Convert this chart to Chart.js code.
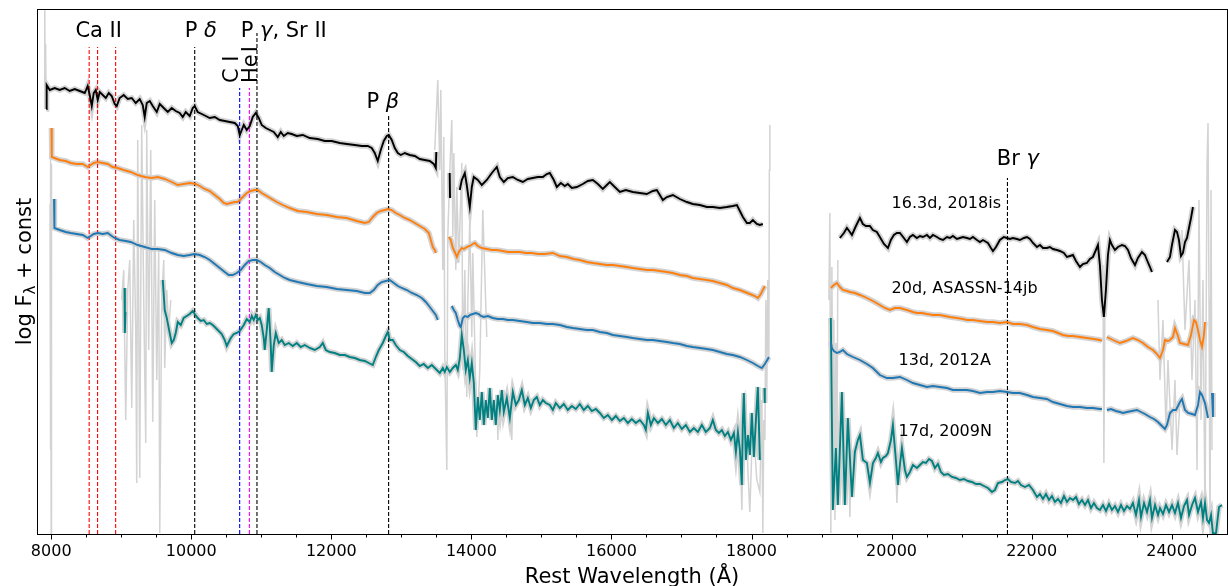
<!DOCTYPE html>
<html>
<head>
<meta charset="utf-8">
<script src="https://cdn.jsdelivr.net/npm/chart.js@4.4.1/dist/chart.umd.min.js"></script>
<style>
  html, body { margin: 0; padding: 0; background: #fff; }
  #wrap { width: 1228px; height: 586px; }
</style>
</head>
<body>
<div id="wrap"><canvas id="myChart" width="1228" height="586"></canvas></div>
<script>
// wavelengths in Angstrom, flux as log F + const, null = gap
var blackWave = [
  7930, 7935, 7979, 8050, 8121, 8193, 8264, 8336, 8407, 8479,
  8521, 8550, 8579, 8607, 8636, 8664, 8693, 8736, 8779, 8822,
  8864, 8907, 8936, 8978, 9035, 9093, 9150, 9207, 9264, 9307,
  9335, 9364, 9407, 9450, 9507, 9550, 9607, 9664, 9721, 9778,
  9835, 9878, 9921, 9978, 10021, 10049, 10092, 10150, 10207, 10264,
  10335, 10407, 10478, 10549, 10621, 10664, 10692, 10721, 10750, 10792,
  10835, 10878, 10921, 10964, 11006, 11064, 11121, 11178, 11235, 11278,
  11321, 11378, 11435, 11506, 11592, 11692, 11806, 11906, 12006, 12120,
  12220, 12335, 12435, 12520, 12577, 12620, 12663, 12706, 12749, 12792,
  12820, 12863, 12906, 12949, 12992, 13049, 13120, 13192, 13263, 13334,
  13406, 13463, 13492, 13499, 13600, 13690, 13695, 13760,
  13834, 13863, 13906, 13934, 13963, 13977, 14006, 14034, 14092, 14149,
  14220, 14292, 14363, 14406, 14463, 14520, 14591, 14663, 14734, 14806,
  14877, 14948, 15020, 15077, 15120, 15177, 15220, 15277, 15334, 15377,
  15434, 15506, 15591, 15663, 15734, 15806, 15877, 15934, 15977, 16048,
  16120, 16205, 16305, 16405, 16505, 16591, 16648, 16691, 16734, 16791,
  16877, 16977, 17077, 17162, 17262, 17362, 17448, 17548, 17648, 17733,
  17791, 17834, 17877, 17934, 17976, 18019, 18076, 18119, 18162, 18700,
  19262, 19319, 19362, 19405, 19434, 19491, 19548, 19590, 19633, 19690,
  19733, 19790, 19833, 19891, 19948, 19990, 20033, 20076, 20119, 20176,
  20219, 20262, 20305, 20362, 20405, 20448, 20505, 20548, 20591, 20648,
  20691, 20734, 20791, 20834, 20876, 20933, 20976, 21019, 21076, 21119,
  21162, 21219, 21262, 21305, 21376, 21419, 21448, 21491, 21547, 21604,
  21647, 21690, 21733, 21790, 21833, 21890, 21933, 21976, 22019, 22076,
  22119, 22162, 22218, 22261, 22304, 22361, 22404, 22461, 22504, 22547,
  22590, 22633, 22690, 22732, 22789, 22832, 22875, 22918, 22947, 22975,
  23004, 23032, 23061, 23090, 23118, 23147, 23190, 23233, 23290, 23333,
  23376, 23419, 23476, 23518, 23576, 23618, 23647, 23690, 23718, 23820,
  23933, 23976, 24004, 24047, 24076, 24104, 24133, 24161, 24190, 24219,
  24247, 24276, 24304
];
var blackFlux = [
  4.25, 4.49, 4.44, 4.46, 4.44, 4.46, 4.43, 4.45, 4.43, 4.41,
  4.48, 4.39, 4.28, 4.41, 4.44, 4.34, 4.42, 4.39, 4.36, 4.41,
  4.38, 4.30, 4.28, 4.36, 4.39, 4.35, 4.36, 4.31, 4.35, 4.29,
  4.17, 4.31, 4.33, 4.28, 4.22, 4.30, 4.26, 4.22, 4.26, 4.23,
  4.21, 4.17, 4.22, 4.18, 4.26, 4.28, 4.22, 4.20, 4.18, 4.16,
  4.17, 4.14, 4.13, 4.12, 4.11, 4.08, 3.99, 4.04, 4.09, 4.04,
  4.08, 4.17, 4.21, 4.16, 4.09, 4.06, 4.04, 4.02, 3.97, 4.02,
  3.98, 4.01, 4.00, 3.98, 3.99, 3.96, 3.95, 3.93, 3.93, 3.91,
  3.90, 3.89, 3.88, 3.88, 3.86, 3.81, 3.73, 3.84, 3.93, 3.98,
  3.99, 3.94, 3.86, 3.81, 3.79, 3.81, 3.79, 3.78, 3.75, 3.74,
  3.73, 3.70, 3.66, 3.82, null, 3.61, 3.36, null,
  3.44, 3.54, 3.61, 3.49, 3.34, 3.27, 3.47, 3.57, 3.54, 3.49,
  3.54, 3.61, 3.67, 3.57, 3.52, 3.56, 3.57, 3.54, 3.52, 3.55,
  3.56, 3.57, 3.57, 3.60, 3.61, 3.54, 3.47, 3.51, 3.48, 3.50,
  3.46, 3.47, 3.50, 3.53, 3.54, 3.50, 3.45, 3.49, 3.52, 3.47,
  3.42, 3.44, 3.42, 3.41, 3.40, 3.43, 3.44, 3.39, 3.34, 3.37,
  3.39, 3.35, 3.32, 3.30, 3.29, 3.27, 3.27, 3.26, 3.27, 3.28,
  3.29, 3.23, 3.17, 3.11, 3.11, 3.14, 3.10, 3.09, 3.10, null,
  2.96, 3.01, 3.06, 3.02, 2.99, 3.08, 3.16, 3.10, 3.08, 3.08,
  3.04, 3.02, 2.97, 2.90, 2.86, 2.94, 2.99, 3.01, 3.01, 2.96,
  2.92, 2.97, 2.99, 2.96, 2.98, 2.97, 2.99, 2.96, 2.99, 2.97,
  2.95, 2.94, 2.97, 2.96, 2.98, 2.95, 2.96, 2.97, 2.96, 2.95,
  2.97, 2.94, 2.92, 2.94, 2.91, 2.86, 2.83, 2.87, 2.94, 2.97,
  2.96, 2.95, 2.96, 2.95, 2.94, 2.96, 2.97, 2.95, 2.91, 2.87,
  2.89, 2.86, 2.86, 2.87, 2.85, 2.84, 2.83, 2.81, 2.77, 2.78,
  2.79, 2.73, 2.67, 2.70, 2.71, 2.75, 2.77, 2.84, 2.89, 2.69,
  2.34, 2.17, 2.44, 2.79, 2.94, 2.89, 2.84, 2.87, 2.89, 2.88,
  2.84, 2.76, 2.69, 2.76, 2.82, 2.79, 2.74, 2.67, 2.62, null,
  2.72, 2.77, 2.89, 3.04, 3.02, 2.94, 2.78, 2.81, 2.92, 2.96,
  3.06, 3.16, 3.27
];

var orangeWave = [
  8003, 8008, 8046, 8121, 8207, 8278, 8364, 8450, 8521, 8564,
  8607, 8664, 8736, 8807, 8878, 8950, 9035, 9135, 9235, 9335,
  9435, 9521, 9621, 9721, 9807, 9892, 9978, 10064, 10121, 10192,
  10264, 10335, 10407, 10464, 10507, 10564, 10621, 10664, 10707, 10750,
  10792, 10849, 10906, 10949, 11006, 11078, 11149, 11221, 11306, 11406,
  11521, 11649, 11792, 11935, 12078, 12221, 12363, 12478, 12535, 12592,
  12649, 12706, 12763, 12806, 12863, 12920, 12977, 13049, 13120, 13192,
  13263, 13335, 13392, 13421, 13449, 13477, 13492, 13590,
  13677, 13706, 13735, 13763, 13792, 13820, 13863, 13892, 13934, 13977,
  14020, 14049, 14092, 14149, 14220, 14292, 14363, 14449, 14520, 14591,
  14691, 14777, 14863, 14949, 15048, 15163, 15263, 15363, 15463, 15548,
  15648, 15734, 15834, 15934, 16020, 16120, 16220, 16305, 16405, 16505,
  16591, 16691, 16791, 16877, 16977, 17077, 17162, 17262, 17362, 17448,
  17548, 17648, 17733, 17834, 17905, 17976, 18048, 18091, 18133, 18162,
  18191, 18700,
  19133, 19176, 19219, 19262, 19305, 19362, 19405, 19476, 19548, 19648,
  19733, 19833, 19905, 19976, 20048, 20119, 20219, 20305, 20362, 20433,
  20505, 20591, 20691, 20762, 20834, 20933, 21019, 21076, 21162, 21262,
  21362, 21448, 21547, 21647, 21733, 21833, 21933, 22019, 22119, 22218,
  22304, 22376, 22447, 22518, 22590, 22690, 22789, 22889, 22975, 23004,
  23040, 23075, 23161, 23261, 23347, 23447, 23518, 23590, 23661, 23733,
  23790, 23833, 23876, 23904, 23947, 23976, 24019, 24047, 24090, 24118,
  24176, 24233, 24276, 24319, 24347, 24376, 24404, 24433, 24461, 24476
];
var orangeFlux = [
  4.06, 3.77, 3.76, 3.74, 3.73, 3.71, 3.70, 3.70, 3.67, 3.69,
  3.71, 3.72, 3.71, 3.70, 3.67, 3.66, 3.64, 3.62, 3.59, 3.57,
  3.56, 3.57, 3.55, 3.52, 3.49, 3.50, 3.51, 3.50, 3.48, 3.45,
  3.43, 3.39, 3.35, 3.31, 3.30, 3.31, 3.32, 3.32, 3.35, 3.38,
  3.41, 3.43, 3.44, 3.44, 3.41, 3.38, 3.35, 3.32, 3.29, 3.26,
  3.23, 3.22, 3.20, 3.19, 3.17, 3.16, 3.13, 3.11, 3.12, 3.17,
  3.21, 3.23, 3.24, 3.25, 3.24, 3.21, 3.19, 3.16, 3.14, 3.11,
  3.08, 3.05, 3.01, 2.94, 2.87, 2.84, 2.81, null,
  2.97, 2.94, 2.86, 2.82, 2.77, 2.82, 2.86, 2.85, 2.87, 2.88,
  2.90, 2.91, 2.88, 2.86, 2.85, 2.84, 2.84, 2.83, 2.82, 2.82,
  2.82, 2.81, 2.81, 2.80, 2.80, 2.81, 2.78, 2.77, 2.75, 2.74,
  2.72, 2.71, 2.70, 2.69, 2.69, 2.68, 2.67, 2.66, 2.65, 2.64,
  2.64, 2.63, 2.62, 2.61, 2.59, 2.58, 2.56, 2.55, 2.54, 2.53,
  2.51, 2.49, 2.46, 2.44, 2.42, 2.40, 2.38, 2.36, 2.40, 2.44,
  2.48, null,
  2.46, 2.49, 2.51, 2.47, 2.44, 2.43, 2.42, 2.41, 2.39, 2.36,
  2.33, 2.29, 2.26, 2.24, 2.26, 2.26, 2.24, 2.22, 2.21, 2.21,
  2.20, 2.19, 2.19, 2.18, 2.17, 2.16, 2.15, 2.14, 2.14, 2.13,
  2.12, 2.12, 2.11, 2.12, 2.10, 2.10, 2.09, 2.07, 2.05, 2.04,
  2.03, 2.01, 1.99, 1.98, 1.98, 1.97, 1.96, 1.95, 1.94, 1.93,
  null, 1.97, 1.94, 1.91, 1.93, 1.96, 1.94, 1.91, 1.87, 1.84,
  1.80, 1.76, 1.84, 1.94, 1.93, 1.94, 1.97, 2.06, 1.98, 1.91,
  1.90, 1.89, 1.99, 2.14, 2.12, 2.04, 1.94, 1.87, 1.99, 2.12
];

var blueWave = [
  8040, 8046, 8121, 8207, 8278, 8364, 8450, 8521, 8564, 8607,
  8664, 8736, 8807, 8864, 8907, 8978, 9064, 9135, 9235, 9335,
  9435, 9521, 9621, 9721, 9807, 9892, 9978, 10049, 10121, 10192,
  10264, 10335, 10407, 10478, 10535, 10592, 10650, 10707, 10764, 10821,
  10878, 10935, 10992, 11049, 11121, 11192, 11264, 11335, 11406, 11521,
  11649, 11792, 11935, 12078, 12221, 12363, 12478, 12549, 12606, 12663,
  12720, 12777, 12835, 12892, 12949, 13006, 13078, 13149, 13220, 13292,
  13349, 13406, 13449, 13492, 13520, 13620,
  13720, 13749, 13777, 13806, 13835, 13849, 13878, 13906, 13949, 13977,
  14020, 14063, 14106, 14135, 14178, 14235, 14306, 14378, 14449, 14520,
  14591, 14691, 14791, 14877, 14977, 15077, 15163, 15263, 15363, 15448,
  15548, 15648, 15734, 15834, 15934, 16020, 16120, 16220, 16305, 16405,
  16505, 16591, 16691, 16791, 16877, 16977, 17077, 17162, 17262, 17362,
  17448, 17548, 17648, 17733, 17834, 17934, 18019, 18091, 18148, 18191,
  18233, 18248, 18700,
  19133, 19148, 19176, 19219, 19262, 19305, 19362, 19448, 19548, 19648,
  19733, 19833, 19933, 20019, 20119, 20219, 20305, 20405, 20505, 20591,
  20691, 20791, 20877, 20976, 21076, 21162, 21262, 21362, 21448, 21547,
  21647, 21733, 21833, 21933, 22019, 22119, 22218, 22304, 22404, 22504,
  22590, 22690, 22789, 22875, 22975, 23004, 23040, 23075, 23133, 23204,
  23261, 23304, 23361, 23433, 23504, 23561, 23618, 23690, 23747, 23804,
  23861, 23904, 23933, 23976, 24019, 24061, 24090, 24118, 24147, 24190,
  24233, 24290, 24333, 24376, 24404, 24433, 24476, 24519, 24550, 24576, 24590
];
var blueFlux = [
  3.35, 3.06, 3.04, 3.02, 3.01, 3.00, 2.99, 2.96, 2.98, 3.00,
  3.01, 3.00, 3.01, 2.98, 2.96, 2.94, 2.93, 2.92, 2.89, 2.87,
  2.85, 2.85, 2.84, 2.81, 2.79, 2.78, 2.79, 2.80, 2.79, 2.77,
  2.74, 2.70, 2.66, 2.62, 2.59, 2.59, 2.61, 2.64, 2.69, 2.73,
  2.74, 2.74, 2.72, 2.69, 2.66, 2.62, 2.59, 2.56, 2.54, 2.52,
  2.50, 2.48, 2.47, 2.45, 2.44, 2.43, 2.41, 2.41, 2.44, 2.49,
  2.52, 2.53, 2.54, 2.51, 2.48, 2.46, 2.44, 2.41, 2.39, 2.36,
  2.32, 2.27, 2.23, 2.19, 2.14, null,
  2.28, 2.24, 2.21, 2.14, 2.08, 2.07, 2.16, 2.18, 2.17, 2.19,
  2.20, 2.21, 2.20, 2.18, 2.17, 2.18, 2.16, 2.15, 2.15, 2.14,
  2.14, 2.13, 2.12, 2.11, 2.11, 2.10, 2.10, 2.09, 2.07, 2.06,
  2.05, 2.04, 2.04, 2.02, 2.01, 1.99, 1.98, 1.97, 1.96, 1.95,
  1.94, 1.94, 1.93, 1.92, 1.91, 1.90, 1.88, 1.87, 1.86, 1.85,
  1.84, 1.82, 1.80, 1.79, 1.77, 1.74, 1.71, 1.68, 1.66, 1.70,
  1.75, 1.77, null,
  1.92, 1.86, 1.83, 1.81, 1.82, 1.84, 1.80, 1.77, 1.74, 1.70,
  1.66, 1.59, 1.56, 1.56, 1.57, 1.54, 1.51, 1.49, 1.47, 1.48,
  1.47, 1.46, 1.44, 1.44, 1.44, 1.43, 1.41, 1.42, 1.42, 1.43,
  1.42, 1.41, 1.41, 1.39, 1.37, 1.36, 1.35, 1.32, 1.30, 1.28,
  1.27, 1.27, 1.26, 1.26, 1.25, 1.25, null, 1.24, 1.25, 1.23,
  1.22, 1.21, 1.22, 1.23, 1.24, 1.22, 1.20, 1.17, 1.15, 1.12,
  1.08, 1.05, 1.09, 1.21, 1.24, 1.24, 1.28, 1.32, 1.35, 1.24,
  1.21, 1.20, 1.19, 1.29, 1.42, 1.39, 1.31, 1.16, null, 1.41, 1.17
];

var tealWave = [
  9046, 9052, 9060, 9300,
  9593, 9621, 9650, 9692, 9721, 9750, 9778, 9807, 9850, 9892,
  9935, 9978, 10021, 10049, 10092, 10135, 10178, 10221, 10264, 10307,
  10350, 10392, 10435, 10478, 10507, 10535, 10564, 10607, 10650, 10692,
  10750, 10792, 10835, 10864, 10892, 10921, 10949, 10978, 11006, 11035,
  11049, 11078, 11092, 11106, 11135, 11149, 11178, 11207, 11249, 11292,
  11335, 11392, 11449, 11506, 11563, 11620, 11692, 11763, 11835, 11878,
  11921, 11978, 12049, 12121, 12192, 12263, 12335, 12406, 12478, 12535,
  12592, 12635, 12678, 12735, 12778, 12806, 12835, 12878, 12920, 12978,
  13035, 13092, 13149, 13206, 13263, 13320, 13378, 13435, 13492, 13549,
  13592, 13620, 13649, 13692, 13735, 13778, 13806, 13835, 13863, 13892,
  13920, 13949, 13977, 14006, 14035, 14063, 14092, 14120, 14149, 14178,
  14206, 14235, 14263, 14292, 14320, 14349, 14378, 14406, 14435, 14463,
  14506, 14549, 14592, 14635, 14677, 14720, 14763, 14806, 14849, 14891,
  14934, 14977, 15020, 15063, 15120, 15163, 15206, 15263, 15320, 15377,
  15434, 15491, 15548, 15605, 15663, 15720, 15777, 15834, 15891, 15948,
  16006, 16063, 16120, 16177, 16234, 16291, 16348, 16405, 16463, 16491,
  16520, 16563, 16606, 16663, 16720, 16777, 16834, 16891, 16948, 17005,
  17063, 17120, 17177, 17234, 17291, 17348, 17406, 17448, 17491, 17534,
  17577, 17620, 17663, 17706, 17749, 17777, 17806, 17834, 17862, 17877,
  17891, 17920, 17948, 17977, 18005, 18034, 18063, 18091, 18120, 18150,
  18185, 18190, 18600,
  19133, 19148, 19162, 19205, 19233, 19291, 19333, 19376, 19434, 19476,
  19519, 19548, 19591, 19648, 19691, 19734, 19776, 19805, 19848, 19876,
  19919, 19948, 19991, 20019, 20062, 20091, 20119, 20148, 20191, 20219,
  20262, 20305, 20362, 20405, 20448, 20491, 20534, 20576, 20619, 20662,
  20705, 20748, 20805, 20862, 20919, 20976, 21034, 21091, 21148, 21205,
  21262, 21319, 21376, 21433, 21476, 21519, 21576, 21619, 21662, 21705,
  21762, 21805, 21848, 21905, 21962, 22019, 22076, 22119, 22162, 22205,
  22248, 22290, 22333, 22376, 22419, 22462, 22505, 22548, 22590, 22633,
  22676, 22719, 22762, 22805, 22848, 22890, 22933, 22976, 23019, 23062,
  23105, 23147, 23190, 23233, 23276, 23319, 23362, 23405, 23447, 23490,
  23533, 23562, 23605, 23648, 23690, 23719, 23762, 23805, 23833, 23876,
  23919, 23962, 24005, 24047, 24090, 24133, 24176, 24219, 24248, 24291,
  24333, 24376, 24419, 24447, 24476, 24505, 24533, 24562, 24590, 24633,
  24676, 24719
];
var tealFlux = [
  2.46, 2.01, 2.22, null,
  2.54, 2.24, 2.16, 2.01, 1.91, 1.94, 2.01, 2.12, 2.09, 2.16,
  2.18, 2.20, 2.23, 2.20, 2.16, 2.13, 2.14, 2.10, 2.11, 2.09,
  2.06, 2.03, 2.00, 1.94, 1.88, 1.92, 1.96, 2.00, 2.01, 2.03,
  2.09, 2.15, 2.12, 2.18, 2.14, 2.19, 2.14, 2.16, 2.09, 1.96,
  1.84, 2.04, 2.16, 2.26, 1.89, 1.62, 1.89, 2.01, 1.91, 1.94,
  1.89, 1.91, 1.88, 1.91, 1.87, 1.89, 1.86, 1.84, 1.87, 1.91,
  1.84, 1.82, 1.81, 1.79, 1.79, 1.77, 1.76, 1.74, 1.73, 1.71,
  1.69, 1.77, 1.84, 1.91, 1.98, 2.02, 1.94, 1.94, 1.89, 1.84,
  1.82, 1.78, 1.75, 1.72, 1.68, 1.70, 1.66, 1.69, 1.65, 1.61,
  1.66, 1.62, 1.67, 1.62, 1.66, 1.69, 1.64, 1.76, 1.99, 1.84,
  1.64, 1.74, 1.56, 1.71, 1.51, 1.04, 1.37, 1.14, 1.42, 1.09,
  1.34, 1.16, 1.46, 1.14, 1.34, 1.09, 1.39, 1.24, 1.44, 1.22,
  1.36, 1.16, 1.42, 1.29, 1.34, 1.44, 1.29, 1.36, 1.26, 1.34,
  1.37, 1.29, 1.34, 1.31, 1.29, 1.24, 1.31, 1.26, 1.30, 1.24,
  1.28, 1.25, 1.30, 1.24, 1.28, 1.23, 1.25, 1.21, 1.16, 1.19,
  1.14, 1.18, 1.13, 1.16, 1.11, 1.15, 1.11, 1.14, 1.09, 1.04,
  1.21, 1.09, 1.16, 1.11, 1.15, 1.09, 1.14, 1.06, 1.11, 1.05,
  1.09, 1.02, 1.06, 1.02, 1.09, 1.02, 1.06, 1.14, 1.04, 1.01,
  1.04, 0.98, 1.02, 0.94, 1.01, 0.82, 1.02, 0.84, 0.49, 1.14,
  1.41, 0.74, 0.99, 0.79, 1.21, 0.77, 1.14, 1.47, 0.74, null,
  1.46, 1.31, null,
  2.16, 1.14, 0.24, 0.86, 0.29, 1.42, 0.29, 1.16, 0.37, 0.82,
  0.94, 0.99, 0.74, 0.71, 0.51, 0.71, 0.76, 0.81, 0.72, 0.76,
  0.78, 0.81, 0.94, 1.09, 0.74, 0.49, 0.69, 0.86, 0.64, 0.57,
  0.62, 0.69, 0.66, 0.69, 0.72, 0.71, 0.75, 0.73, 0.66, 0.70,
  0.62, 0.59, 0.60, 0.57, 0.56, 0.54, 0.55, 0.53, 0.52, 0.50,
  0.50, 0.48, 0.46, 0.42, 0.44, 0.51, 0.52, 0.54, 0.55, 0.52,
  0.51, 0.53, 0.49, 0.47, 0.49, 0.44, 0.37, 0.40, 0.35, 0.40,
  0.34, 0.38, 0.32, 0.35, 0.31, 0.38, 0.32, 0.36, 0.34, 0.37,
  0.30, 0.34, 0.29, 0.34, 0.26, 0.31, 0.26, 0.24, 0.29, 0.23,
  0.30, 0.24, 0.28, 0.22, 0.29, 0.23, 0.28, 0.25, 0.31, 0.19,
  0.34, 0.17, 0.31, 0.22, 0.34, 0.16, 0.29, 0.19, 0.26, 0.20,
  0.29, 0.22, 0.29, 0.21, 0.31, 0.16, 0.28, 0.34, 0.19, 0.29,
  0.36, 0.22, 0.32, 0.16, 0.31, 0.14, 0.11, 0.19, 0.00, 0.01,
  0.27, 0.29
];

// raw (unsmoothed) spikes in telluric bands, drawn in grey
var rawWave = [
  7902, 7908, 7914, 7920, 7926, 7950,
  7983, 7988, 7994, 7999, 8004, 8500,
  9007, 9035, 9064, 9093, 9121, 9150, 9178, 9207, 9221, 9235,
  9264, 9292, 9321, 9350, 9364, 9392, 9421, 9450, 9478, 9507,
  9535, 9550, 9578, 9607, 9621, 9650, 9678, 9707, 10000,
  13477, 13520, 13549, 13563, 13592, 13606, 13620, 13649, 13663, 13692,
  13720, 13735, 13749, 13777, 13792, 13820, 13863, 13877, 13906, 13934,
  13949, 13977, 14006, 14020, 14077, 14120, 14163, 14220, 14240,
  14363, 14378, 14392, 14450, 14563, 14577, 14591, 14700,
  17834, 17862, 17891, 17905, 17948, 17976, 18019, 18076, 18119, 18148,
  18162, 18176, 18191, 18205, 18219, 18233, 18248, 18255, 18262, 18700,
  19105, 19119, 19133, 19148, 19162, 19176, 19191, 19205, 19219, 19233, 19300,
  19390, 19405, 19419, 19700, 20062, 20076, 20091, 20500,
  23018, 23032, 23047, 23400,
  23804, 23833, 23876, 23919, 23947, 24005, 24047, 24076, 24119, 24130,
  24147, 24190, 24247, 24290, 24333, 24362, 24390, 24419, 24447, 24476,
  24505, 24519, 24533, 24547, 24562, 24576
];
var rawFlux = [
  4.30, 5.24, 4.35, 4.90, 4.40, null,
  3.30, 0.84, 3.94, 0.00, 3.70, null,
  2.34, 2.64, 1.14, 2.44, 2.74, 1.26, 3.14, 2.04, 0.51, 3.94,
  0.56, 4.09, 2.34, 0.91, 4.04, 1.84, 3.84, 1.12, 3.34, 1.54,
  2.84, 0.01, 2.34, 2.74, 1.66, 2.44, 2.04, 2.34, null,
  3.84, 4.54, 3.64, 4.44, 2.64, 3.97, 1.81, 0.64, 2.97, 3.64,
  4.14, 2.97, 3.81, 2.64, 3.47, 2.71, 3.71, 1.64, 2.64, 1.37,
  2.31, 3.14, 1.97, 2.81, 0.97, 1.64, 3.24, 1.97, null,
  1.34, 0.94, 1.34, null, 1.34, 0.94, 1.34, null,
  0.94, 0.24, 1.34, 1.39, 0.64, 0.22, 1.14, 0.54, 0.42, 1.34,
  0.01, 1.14, 0.94, 2.34, 1.44, 2.54, 1.74, 3.64, 4.09, null,
  2.34, 3.21, 0.01, 2.67, 0.84, 2.14, 0.14, 1.91, 0.54, 2.74, null,
  0.64, 0.17, 0.64, null, 0.64, 0.31, 0.54, null,
  2.69, 0.71, 2.34, null,
  2.34, 1.54, 2.14, 1.04, 1.74, 0.84, 1.54, 0.79, 1.34, null,
  3.04, 2.04, 2.74, 1.54, 2.34, 0.64, 3.34, 1.14, 2.54, 0.14,
  3.69, 4.11, 2.34, 0.00, 3.44, 0.84
];

// line identifications
var lineWave = [8542, 8662, 8920, 10049, 10691, 10830, 10938, 12818, 21655];
var lineTop = [4.87, 4.87, 4.87, 4.87, 4.46, 4.46, 5.01, 4.19, 3.56];
var lineColor = ['#ff0000', '#ff0000', '#ff0000', '#000000', '#0000ff', '#ff00ff', '#000000', '#000000', '#000000'];

var tickValues = [8000, 10000, 12000, 14000, 16000, 18000, 20000, 22000, 24000];

var lineLabels = [
  { parts: [['Ca II', false]], wave: 8678, flux: 4.97 },
  { parts: [['P ', false], ['\u03b4', true]], wave: 10135, flux: 4.97 },
  { parts: [['P ', false], ['\u03b3', true], [', Sr II', false]], wave: 11320, flux: 4.97 },
  { parts: [['P ', false], ['\u03b2', true]], wave: 12735, flux: 4.26 },
  { parts: [['Br ', false], ['\u03b3', true]], wave: 21804, flux: 3.69 }
];
var rotLabels = [
  { text: 'C I', wave: 10664, flux: 4.51 },
  { text: 'He\u200aI', wave: 10935, flux: 4.51 }
];
var specLabels = [
  { text: '16.3d, 2018is', wave: 20000, flux: 3.26 },
  { text: '20d, ASASSN-14jb', wave: 20000, flux: 2.41 },
  { text: '13d, 2012A', wave: 20100, flux: 1.69 },
  { text: '17d, 2009N', wave: 20100, flux: 0.98 }
];

var FONT = '"DejaVu Sans"';

function toPoints(wave, flux) {
  return wave.map(function (w, i) { return { x: w, y: flux[i] }; });
}

function spectrum(wave, flux, color) {
  return { data: toPoints(wave, flux), showLine: true, borderColor: color, borderWidth: 1.9, pointRadius: 0, order: 0 };
}

function halo(wave, flux) {
  return { data: toPoints(wave, flux), showLine: true, borderColor: '#d3d3d3', borderWidth: 5.5, pointRadius: 0, order: 2 };
}

function drawParts(ctx, parts, x, y, size) {
  var total = 0;
  parts.forEach(function (p) {
    ctx.font = (p[1] ? 'italic ' : '') + size + 'px ' + FONT;
    total += ctx.measureText(p[0]).width;
  });
  var cx = x - total / 2;
  parts.forEach(function (p) {
    ctx.font = (p[1] ? 'italic ' : '') + size + 'px ' + FONT;
    ctx.fillText(p[0], cx, y);
    cx += ctx.measureText(p[0]).width;
  });
}

var decorations = {
  id: 'decorations',
  afterDraw: function (chart) {
    var ctx = chart.ctx, a = chart.chartArea, xs = chart.scales.x, ys = chart.scales.y;
    ctx.save();
    ctx.fillStyle = '#000';
    ctx.strokeStyle = '#000';
    ctx.textAlign = 'left';
    ctx.textBaseline = 'alphabetic';

    // frame
    ctx.lineWidth = 1;
    var l = Math.round(a.left) + 0.5, r = Math.round(a.right) + 0.5;
    var t = Math.round(a.top) + 0.5, b = Math.round(a.bottom) + 0.5;
    ctx.strokeRect(l, t, r - l, b - t);

    // major + minor tick marks
    for (var v = 8000; v <= 24500; v += 500) {
      var px = Math.round(xs.getPixelForValue(v)) + 0.5;
      ctx.beginPath();
      ctx.moveTo(px, b);
      ctx.lineTo(px, b + (v % 2000 === 0 ? 5 : 3));
      ctx.stroke();
    }

    // line identification labels
    lineLabels.forEach(function (lb) {
      drawParts(ctx, lb.parts, xs.getPixelForValue(lb.wave), ys.getPixelForValue(lb.flux), 21);
    });
    rotLabels.forEach(function (lb) {
      ctx.save();
      ctx.translate(xs.getPixelForValue(lb.wave), ys.getPixelForValue(lb.flux));
      ctx.rotate(-Math.PI / 2);
      ctx.font = '21px ' + FONT;
      ctx.fillText(lb.text, 0, 0);
      ctx.restore();
    });

    // spectrum labels
    ctx.font = '16px ' + FONT;
    specLabels.forEach(function (lb) {
      ctx.fillText(lb.text, xs.getPixelForValue(lb.wave), ys.getPixelForValue(lb.flux));
    });

    // axis titles
    ctx.font = '21px ' + FONT;
    ctx.textAlign = 'center';
    ctx.fillText('Rest Wavelength (\u00c5)', (a.left + a.right) / 2, b + 48);

    ctx.save();
    ctx.translate(31, (a.top + a.bottom) / 2);
    ctx.rotate(-Math.PI / 2);
    ctx.textAlign = 'left';
    var big = '21px ' + FONT, small = '15px ' + FONT;
    ctx.font = big;
    var w1 = ctx.measureText('log F').width, w3 = ctx.measureText(' + const').width;
    ctx.font = small;
    var w2 = ctx.measureText('\u03bb').width;
    var s = -(w1 + w2 + w3) / 2;
    ctx.font = big;
    ctx.fillText('log F', s, 0);
    ctx.font = small;
    ctx.fillText('\u03bb', s + w1, 4);
    ctx.font = big;
    ctx.fillText(' + const', s + w1 + w2, 0);
    ctx.restore();

    ctx.restore();
  }
};

document.addEventListener('DOMContentLoaded', function () {
  Chart.defaults.font.family = 'DejaVu Sans';
  Chart.defaults.color = '#000';

  var datasets = [
    spectrum(blackWave, blackFlux, '#000000'),
    spectrum(orangeWave, orangeFlux, '#ff7f0e'),
    spectrum(blueWave, blueFlux, '#1f77b4'),
    spectrum(tealWave, tealFlux, '#008080')
  ];
  lineWave.forEach(function (w, i) {
    datasets.push({
      data: [{ x: w, y: 0 }, { x: w, y: lineTop[i] }],
      showLine: true, borderColor: lineColor[i], borderWidth: 1.1,
      borderDash: [4, 2], pointRadius: 0, order: 1
    });
  });
  datasets.push(halo(blackWave, blackFlux));
  datasets.push(halo(orangeWave, orangeFlux));
  datasets.push(halo(blueWave, blueFlux));
  datasets.push(halo(tealWave, tealFlux));
  datasets.push({
    data: toPoints(rawWave, rawFlux), showLine: true, borderColor: '#d3d3d3',
    borderWidth: 1.5, pointRadius: 0, order: 3
  });

  var ctx = document.getElementById('myChart').getContext('2d');
  var myChart = new Chart(ctx, {
    type: 'scatter',
    data: { datasets: datasets },
    options: {
      responsive: false,
      animation: false,
      events: [],
      layout: { padding: { left: 37, right: 1, top: 9, bottom: 0 } },
      plugins: { legend: { display: false }, tooltip: { enabled: false } },
      scales: {
        x: {
          type: 'linear',
          min: 7797,
          max: 24790,
          grid: { display: false, drawTicks: false },
          border: { display: false },
          ticks: {
            font: { size: 16 },
            color: '#000',
            padding: 8,
            maxRotation: 0,
            autoSkip: false,
            callback: function (v) { return String(v); }
          },
          afterBuildTicks: function (scale) {
            scale.ticks = tickValues.map(function (v) { return { value: v }; });
          },
          afterFit: function (scale) { scale.height = 52; }
        },
        y: { display: false, min: 0, max: 5.25 }
      }
    },
    plugins: [decorations]
  });
});
</script>
</body>
</html>
